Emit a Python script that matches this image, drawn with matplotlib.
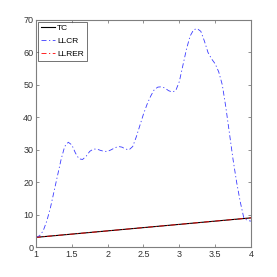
import numpy as np
import matplotlib
matplotlib.use('Agg')
import matplotlib.pyplot as plt

plt.rcParams['font.family'] = ['Liberation Sans Narrow', 'Liberation Sans', 'DejaVu Sans']

# TC / LLRER: straight line
tc_x = [1.0, 4.0]
tc_y = [3.0, 9.0]
llrer_x = [1.0, 4.0]
llrer_y = [3.0, 9.0]

# LLCR
llcr_x = [1.0, 1.05, 1.1, 1.15, 1.2, 1.25, 1.3, 1.35, 1.4, 1.45, 1.5, 1.55, 1.6, 1.65,
          1.7, 1.75, 1.8, 1.85, 1.9, 1.95, 2.0, 2.05, 2.1, 2.15, 2.2, 2.25, 2.3, 2.35,
          2.4, 2.45, 2.5, 2.55, 2.6, 2.65, 2.7, 2.75, 2.8, 2.85, 2.9, 2.95, 3.0, 3.05,
          3.1, 3.15, 3.2, 3.25, 3.3, 3.35, 3.4, 3.45, 3.5, 3.55, 3.6, 3.65, 3.7, 3.75,
          3.8, 3.85, 3.9, 3.95, 4.0]
llcr_y = [3.0, 3.5, 5.0, 8.0, 12.0, 17.0, 22.0, 27.0, 31.0, 32.3, 31.5, 29.0, 27.2, 27.0,
          28.0, 29.5, 30.2, 30.2, 29.8, 29.5, 29.5, 30.0, 30.6, 31.0, 30.8, 30.2, 30.0, 31.0,
          34.0, 37.5, 41.0, 44.0, 46.5, 48.5, 49.3, 49.4, 49.0, 48.2, 47.8, 48.2, 51.0, 56.0,
          61.0, 65.0, 67.0, 67.3, 66.5, 63.5, 60.0, 58.0, 56.5, 54.0, 50.0, 43.0, 35.0, 27.0,
          20.0, 14.0, 9.0, 8.2, 8.0]

fig = plt.figure(figsize=(2.77, 2.77), dpi=100)
ax = fig.add_axes([0.13, 0.108, 0.776, 0.82])

dashdot = (0, (6, 3, 1.5, 3))
ax.plot(tc_x, tc_y, color='black', lw=0.8, label='TC')
ax.plot(llcr_x, llcr_y, color='#3a3aff', lw=0.6, ls=dashdot, label='LLCR')
ax.plot(llrer_x, llrer_y, color='red', lw=0.6, ls=dashdot, label='LLRER')

ax.set_xlim(1, 4)
ax.set_ylim(0, 70)
ax.set_xticks(np.arange(1, 4.01, 0.5))
ax.set_xticklabels(['1', '1.5', '2', '2.5', '3', '3.5', '4'])
ax.set_yticks(np.arange(0, 71, 10))

for s in ax.spines.values():
    s.set_color('#7f7f7f')
    s.set_linewidth(0.8)
ax.tick_params(direction='in', length=2.5, width=0.6, colors='#7f7f7f',
               labelcolor='#333333', labelsize=6.5, top=True, right=True, pad=2)

leg = ax.legend(loc='upper left', fontsize=6, frameon=True, fancybox=False,
                borderaxespad=0.25, handlelength=1.7, handletextpad=0.3,
                borderpad=0.3, labelspacing=0.6)
leg.get_frame().set_edgecolor('#333333')
leg.get_frame().set_linewidth(0.6)

fig.savefig('out.png', dpi=100)
